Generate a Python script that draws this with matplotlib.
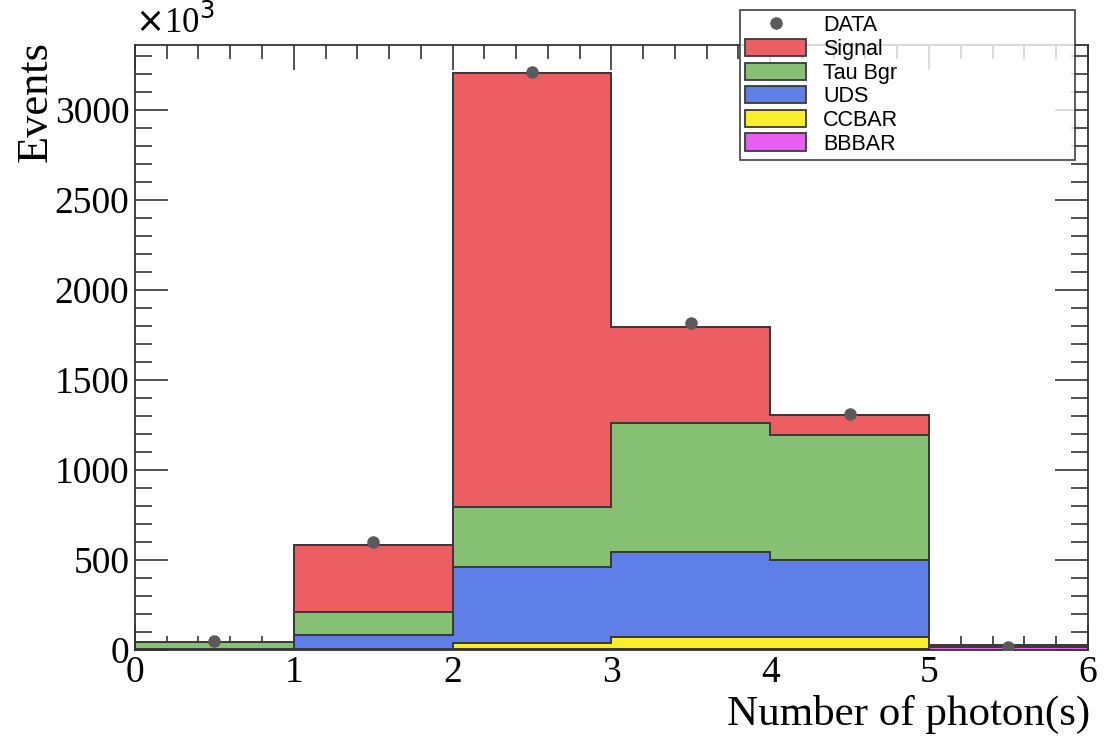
import numpy as np
import matplotlib
matplotlib.use("Agg")
import matplotlib.pyplot as plt
from matplotlib.ticker import MultipleLocator
from matplotlib.patches import Patch
from matplotlib.lines import Line2D

# bin edges: number of photons
edges = [0, 1, 2, 3, 4, 5, 6]

# stacked MC components (events per bin), bottom of stack first
bbbar = [1, 2, 5, 5, 5, 18]
ccbar = [1, 2, 35, 67, 67, 3]
uds = [3, 81, 420, 473, 428, 3]
tau_bgr = [38, 125, 335, 715, 695, 3]
signal = [2, 375, 2410, 535, 110, 2]

data = [50, 600, 3210, 1817, 1311, 20]

labels = ["BBBAR", "CCBAR", "UDS", "Tau Bgr", "Signal"]
colors = ["#e85ef0", "#f8ee2a", "#5e7ee8", "#86c072", "#ec5e62"]

fig = plt.figure(figsize=(11.1, 7.49), dpi=100)
ax = fig.add_axes([0.1216, 0.132, 0.8584, 0.808])

comps = [bbbar, ccbar, uds, tau_bgr, signal]
cum = np.cumsum(np.array(comps, dtype=float), axis=0)

# ROOT THStack style: draw cumulative histos, largest first
for i in range(len(comps) - 1, -1, -1):
    ax.stairs(cum[i], edges, baseline=0, fill=True, facecolor=colors[i],
              edgecolor="#3a3a3a", linewidth=1.3)
    ax.stairs(cum[i], edges, baseline=0, fill=False, color="#3a3a3a", linewidth=1.3)

centers = 0.5 * (np.array(edges[:-1]) + np.array(edges[1:]))
ax.plot(centers, data, "o", color="#5a5a5a", markersize=8, zorder=5)

ax.set_xlim(0, 6)
ax.set_ylim(0, 3360)
ax.set_axisbelow(True)

ax.xaxis.set_major_locator(MultipleLocator(1))
ax.xaxis.set_minor_locator(MultipleLocator(0.2))
ax.yaxis.set_major_locator(MultipleLocator(500))
ax.yaxis.set_minor_locator(MultipleLocator(100))
ax.tick_params(which="both", direction="in", top=True, right=True, width=1.2,
               color="#333333")
ax.tick_params(axis="y", which="major", length=24)
ax.tick_params(axis="y", which="minor", length=12)
ax.tick_params(axis="x", which="major", length=18)
ax.tick_params(axis="x", which="minor", length=10)
ax.tick_params(which="major", labelsize=27, pad=4)
for lab in ax.get_xticklabels() + ax.get_yticklabels():
    lab.set_family("Liberation Serif")
for sp in ax.spines.values():
    sp.set_linewidth(1.3)
    sp.set_color("#333333")

fig.text(0.1216, 0.945, r"$\times$10$^{3}$", fontsize=25, family="Liberation Serif",
         ha="left", va="bottom")
fig.text(0.032, 0.945, "Events", fontsize=32, family="Liberation Serif",
         rotation=90, ha="center", va="top")
fig.text(0.982, 0.02, "Number of photon(s)", fontsize=31, family="Liberation Serif",
         ha="right", va="bottom")

handles = [Line2D([], [], marker="o", linestyle="none", color="#5a5a5a", markersize=8)]
for i in range(len(comps) - 1, -1, -1):
    handles.append(Patch(facecolor=colors[i], edgecolor="#3a3a3a", linewidth=1.3))
leg_labels = ["DATA"] + labels[::-1]
leg = fig.legend(handles, leg_labels, loc="upper left",
                 bbox_to_anchor=(740 / 1110, 1 - 158 / 749, 335 / 1110, 148 / 749),
                 mode="expand", prop={"family": "Liberation Sans", "size": 15.5},
                 frameon=True, fancybox=False, handlelength=2.8, handleheight=0.85,
                 labelspacing=0.12, borderpad=0.25, handletextpad=0.8, borderaxespad=0)
leg.get_frame().set_edgecolor("#222222")
leg.get_frame().set_linewidth(1.3)

fig.savefig("out.png", dpi=100)
